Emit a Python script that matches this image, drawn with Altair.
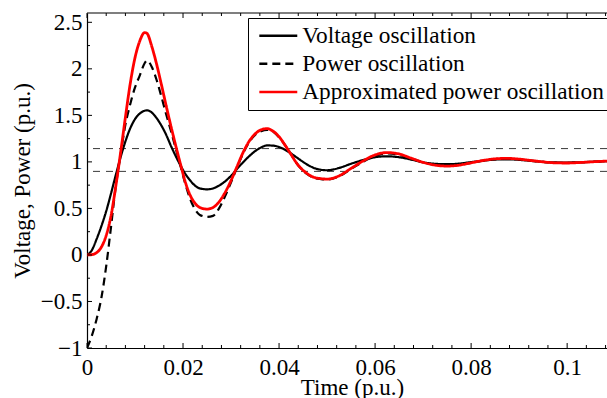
import altair as alt
import pandas as pd

# ---------------- data ----------------
time = [0, 0.001, 0.002, 0.003, 0.004, 0.005, 0.006, 0.007, 0.008, 0.009, 0.010, 0.011, 0.012, 0.0125,
        0.0135, 0.0145, 0.0155, 0.0165, 0.0175, 0.0185, 0.0195, 0.0205, 0.0215, 0.0225, 0.0235, 0.025,
        0.02625, 0.0275, 0.02875, 0.03, 0.03125, 0.0325, 0.03375, 0.035, 0.03625, 0.0375, 0.03875, 0.04,
        0.04125, 0.0425, 0.04375, 0.045, 0.04625, 0.0475, 0.04875, 0.05,
        0.0525, 0.055, 0.0575, 0.06, 0.0625, 0.065, 0.0675, 0.07, 0.0725, 0.075, 0.0775, 0.08, 0.0825,
        0.085, 0.0875, 0.09, 0.0925, 0.095, 0.0975, 0.1, 0.1025, 0.105, 0.1075, 0.1083]

voltage = [0, 0.05, 0.17, 0.31, 0.47, 0.66, 0.86, 1.05, 1.22, 1.36, 1.46, 1.52, 1.55, 1.554,
           1.53, 1.47, 1.39, 1.29, 1.17, 1.06, 0.96, 0.87, 0.80, 0.745, 0.715, 0.705,
           0.715, 0.745, 0.79, 0.85, 0.925, 0.995, 1.06, 1.115, 1.155, 1.177, 1.175, 1.16,
           1.13, 1.09, 1.045, 1.0, 0.96, 0.93, 0.915, 0.91,
           0.935, 0.98, 1.02, 1.05, 1.06, 1.05, 1.025, 0.995, 0.98, 0.975, 0.982, 0.998, 1.013,
           1.025, 1.028, 1.022, 1.01, 1.0, 0.994, 0.993, 0.996, 1.001, 1.006, 1.007]

power = [-1.0, -0.87, -0.69, -0.46, -0.12, 0.30, 0.74, 1.08, 1.40, 1.62, 1.80, 1.93, 2.06, 2.09,
         2.02, 1.88, 1.70, 1.51, 1.33, 1.14, 0.95, 0.76, 0.60, 0.49, 0.43, 0.41,
         0.42, 0.50, 0.63, 0.78, 0.94, 1.09, 1.21, 1.29, 1.33, 1.345, 1.325, 1.265,
         1.18, 1.08, 0.98, 0.905, 0.855, 0.825, 0.815, 0.81,
         0.845, 0.925, 1.0, 1.065, 1.09, 1.075, 1.035, 0.995, 0.968, 0.96, 0.968, 0.99, 1.012,
         1.03, 1.035, 1.028, 1.014, 1.0, 0.991, 0.99, 0.994, 1.0, 1.006, 1.008]

approx = [0, 0.003, 0.025, 0.085, 0.21, 0.42, 0.74, 1.10, 1.48, 1.84, 2.12, 2.30, 2.39, 2.38,
          2.24, 2.05, 1.83, 1.60, 1.38, 1.17, 0.97, 0.78, 0.64, 0.555, 0.51, 0.493,
          0.51, 0.57, 0.67, 0.80, 0.95, 1.10, 1.22, 1.30, 1.345, 1.357, 1.33, 1.27,
          1.18, 1.08, 0.98, 0.91, 0.86, 0.83, 0.82, 0.815,
          0.85, 0.93, 1.01, 1.075, 1.10, 1.085, 1.04, 0.995, 0.965, 0.955, 0.965, 0.99, 1.015,
          1.033, 1.038, 1.03, 1.015, 1.0, 0.99, 0.988, 0.993, 1.0, 1.007, 1.009]

series_names = ["Voltage oscillation", "Power oscillation", "Approximated power oscillation"]
band_levels = [1.143, 0.898]

x_tick_values = [0, 0.02, 0.04, 0.06, 0.08, 0.1]
y_tick_values = [-1, -0.5, 0, 0.5, 1, 1.5, 2, 2.5]
x_minor_values = [round(0.004 * i, 3) for i in range(28) if i % 5 != 0]
y_minor_values = [-0.75, -0.25, 0.25, 0.75, 1.25, 1.75, 2.25]

# ---------------- build table ----------------
rows = []
for name, vals in zip(series_names, [voltage, power, approx]):
    for t, v in zip(time, vals):
        rows.append({"t": t, "v": v, "series": name})
df = pd.DataFrame(rows)

W, H = 520, 335
FONT = "'Liberation Serif', 'Times New Roman', Times, serif"
FS = 23

xscale = alt.Scale(domain=[0, 0.1083], nice=False, zero=False)
yscale = alt.Scale(domain=[-1, 2.6], nice=False, zero=False)

legend = alt.Legend(
    title=None, orient="none", legendX=161, legendY=5,
    strokeColor="black", fillColor="white", padding=6,
    symbolType="M-1,0H5", symbolSize=160, symbolStrokeWidth=2.5,
    labelFont=FONT, labelFontSize=23.3, labelColor="black", labelLimit=400,
    labelOffset=25, rowPadding=4.2,
)
color = alt.Color("series:N", sort=series_names,
                  scale=alt.Scale(domain=series_names, range=["#000000", "#000000", "#ff0000"]),
                  legend=legend)
dash = alt.StrokeDash("series:N", sort=series_names,
                      scale=alt.Scale(domain=series_names, range=[[1, 0], [8, 5], [1, 0]]),
                      legend=legend)

x_axis = alt.Axis(values=x_tick_values, format="~g", ticks=False, tickSize=0, grid=False,
                  labelFont=FONT, labelFontSize=FS, labelColor="black", labelPadding=26,
                  labelBaseline="alphabetic", labelFlush=False,
                  domainColor="black", domainWidth=1.2,
                  title="Time (p.u.)", titleFont=FONT, titleFontSize=FS, titleFontWeight="normal",
                  titleColor="black", titleX=265, titleY=46, titleBaseline="alphabetic",
                  titleAlign="center")
y_axis = alt.Axis(values=y_tick_values, format="~g", ticks=False, tickSize=0, grid=False,
                  labelFont=FONT, labelFontSize=FS, labelColor="black", labelPadding=5,
                  labelFlush=False,
                  domainColor="black", domainWidth=1.2,
                  title="Voltage, Power (p.u.)", titleFont=FONT, titleFontSize=FS,
                  titleFontWeight="normal", titleColor="black", titleAngle=-90,
                  titleX=-58, titleY=H / 2, titleBaseline="alphabetic", titleAlign="center")

bands = alt.Chart(pd.DataFrame({"level": band_levels})).mark_rule(
    color="#3a3a3a", strokeWidth=1, strokeDash=[7, 6]
).encode(y=alt.Y("level:Q", scale=yscale, axis=y_axis))


def line_layer(name, width):
    return alt.Chart(df).transform_filter(alt.datum.series == name).mark_line(
        strokeWidth=width, interpolate="monotone", clip=True
    ).encode(
        x=alt.X("t:Q", scale=xscale, axis=x_axis),
        y=alt.Y("v:Q", scale=yscale, axis=y_axis),
        color=color,
        strokeDash=dash,
    )


lines = [line_layer(series_names[0], 2.2), line_layer(series_names[1], 2.2),
         line_layer(series_names[2], 2.8)]


def xticks(values, length, top):
    ch = alt.Chart(pd.DataFrame({"x": values})).mark_rule(color="black", strokeWidth=1)
    if top:
        return ch.encode(x=alt.X("x:Q", scale=xscale, axis=x_axis), y=alt.value(0), y2=alt.value(length))
    return ch.encode(x=alt.X("x:Q", scale=xscale, axis=x_axis), y=alt.value(H), y2=alt.value(H - length))


def yticks(values, length):
    return alt.Chart(pd.DataFrame({"y": values})).mark_rule(color="black", strokeWidth=1).encode(
        y=alt.Y("y:Q", scale=yscale, axis=y_axis), x=alt.value(0), x2=alt.value(length))


top_border = alt.Chart(pd.DataFrame({"a": [0]})).mark_rule(color="black", strokeWidth=1.2).encode(
    x=alt.value(0), x2=alt.value(W), y=alt.value(0))

chart = alt.layer(
    bands,
    *lines,
    xticks(x_tick_values, 5, False), xticks(x_tick_values, 5, True),
    xticks(x_minor_values, 3, False), xticks(x_minor_values, 3, True),
    yticks(y_tick_values, 5), yticks(y_minor_values, 3),
    top_border,
).properties(
    width=W, height=H,
    autosize=alt.AutoSizeParams(type="none"),
    padding={"left": 87, "top": 13, "right": 0, "bottom": 50},
    background="white",
).configure_view(stroke=None)

chart.save("out.html", embed_options={"renderer": "svg", "actions": False})
